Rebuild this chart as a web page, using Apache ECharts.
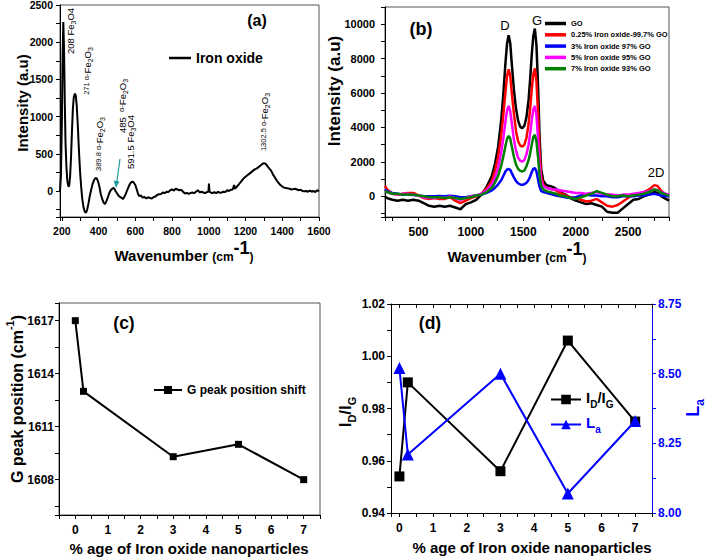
<!DOCTYPE html>
<html><head><meta charset="utf-8">
<script src="https://cdn.jsdelivr.net/npm/echarts@6/dist/echarts.min.js"></script>
<style>html,body{margin:0;padding:0;background:#fff}#c{width:709px;height:559px}</style>
</head><body><div id="c"></div>
<script>
// ---------- DATA ----------
// (a) Raman spectrum of iron oxide: [wavenumber, intensity]
const ironSpectrum = [[190,0],[195,200],[200,900],[204,1800],[208,2270],[212,1900],[216,1200],[220,650],[225,320],[230,130],[236,60],[240,70],[245,200],[250,450],[255,800],[260,1100],[265,1260],[271,1310],[276,1280],[281,1150],[287,880],[293,550],[299,270],[305,60],[311,-100],[318,-220],[325,-280],[332,-290],[338,-250],[345,-170],[352,-70],[360,20],[368,100],[376,150],[383,175],[390,170],[397,130],[405,50],[412,-40],[420,-110],[428,-160],[435,-175],[442,-140],[450,-90],[458,-30],[466,10],[474,30],[480,40],[485,35],[492,0],[500,-30],[508,-60],[516,-80],[524,-90],[532,-110],[540,-80],[548,-40],[556,10],[564,60],[572,100],[580,120],[587,125],[592,110],[600,80],[608,20],[615,-40],[622,-70],[630,-60],[640,-90],[650,-80],[660,-100],[670,-85],[680,-95],[690,-100],[700,-80],[710,-75],[720,-50],[730,-45],[740,-40],[750,-20],[760,-30],[770,-10],[780,-15],[790,10],[800,20],[810,5],[820,30],[830,20],[840,10],[850,15],[860,-10],[870,-35],[880,-25],[890,-40],[900,-30],[910,-20],[920,-30],[930,-10],[940,10],[950,-20],[960,-10],[970,-20],[980,-30],[990,-15],[998,-10],[1001,100],[1004,-10],[1010,-20],[1020,-30],[1030,-15],[1040,-30],[1050,-10],[1060,-25],[1070,-20],[1080,-10],[1090,-15],[1100,10],[1110,0],[1120,15],[1130,20],[1138,80],[1142,30],[1150,50],[1160,80],[1170,110],[1180,140],[1190,170],[1200,190],[1210,210],[1220,230],[1230,250],[1240,270],[1250,290],[1260,300],[1270,320],[1280,340],[1290,360],[1300,375],[1310,365],[1320,330],[1330,300],[1340,270],[1350,220],[1360,180],[1370,140],[1380,110],[1390,80],[1400,60],[1410,45],[1420,40],[1430,35],[1440,30],[1450,20],[1460,25],[1470,30],[1480,20],[1490,10],[1500,15],[1510,0],[1520,-5],[1530,0],[1540,-10],[1550,5],[1560,-10],[1570,0],[1580,-15],[1590,10],[1600,-5]];

// (b) Raman spectra of GO composites
const ramanX = [180,200,250,300,350,400,450,500,550,600,650,700,750,800,850,900,950,1000,1050,1100,1150,1200,1230,1260,1290,1310,1330,1345,1360,1375,1390,1410,1430,1450,1470,1490,1510,1530,1550,1565,1580,1595,1610,1625,1640,1655,1670,1690,1720,1750,1780,1810,1850,1900,1950,2000,2050,2100,2150,2200,2250,2300,2350,2400,2450,2500,2550,2600,2650,2700,2750,2780,2820,2860,2890];
const goY = [0,-100,-200,-250,-200,-250,-200,-250,-400,-550,-600,-550,-600,-550,-650,-750,-450,-350,-200,100,550,1200,1900,2900,4500,6000,7800,8900,9360,8900,7700,6200,5100,4400,4050,3960,4100,4600,5600,6800,8200,9300,9750,8800,6500,3500,1600,900,650,600,550,450,250,100,-100,-250,-350,-450,-400,-500,-600,-900,-950,-950,-700,-450,-200,-150,0,100,250,200,0,-150,-250];
const fe025Y = [600,400,150,100,150,200,200,50,-100,-150,-100,-150,-150,-50,-250,-400,-250,-100,0,150,450,900,1500,2300,3600,4800,6100,7000,7375,7000,6000,4800,3800,3200,2950,2895,3000,3400,4200,5100,6200,7100,7434,6700,4900,2600,1200,700,500,450,400,350,200,50,-50,-100,-200,-300,-250,-150,-350,-550,-600,-500,-300,-100,100,150,250,400,650,600,300,100,0];
const fe3Y = [400,300,200,150,100,100,80,50,0,0,0,20,0,30,0,-50,-50,0,50,100,200,350,500,700,950,1200,1450,1560,1586,1540,1350,1100,880,760,690,677,700,790,950,1150,1400,1600,1644,1450,1000,550,300,250,200,150,100,50,0,-50,-100,-50,50,100,50,50,0,0,-50,-50,0,0,0,50,50,100,150,100,50,0,0];
const fe5Y = [300,250,150,100,150,150,100,50,-50,-100,-100,-50,-100,0,-100,-200,-100,0,50,150,350,700,1100,1650,2600,3400,4400,5000,5252,4950,4250,3300,2650,2250,2070,2027,2100,2450,3000,3650,4400,5050,5252,4700,3400,1800,900,600,500,450,400,400,350,300,250,200,200,150,200,250,150,100,100,50,100,100,150,200,250,300,400,350,250,150,100];
const fe7Y = [300,250,150,150,100,100,100,50,0,-50,-50,-50,-100,-50,-100,-150,-100,-50,50,100,250,500,800,1200,1800,2350,2950,3350,3515,3350,2900,2300,1850,1600,1480,1448,1500,1750,2100,2500,3000,3450,3573,3200,2300,1200,600,400,300,250,200,150,50,0,-100,-150,-50,50,150,300,200,100,0,0,50,0,50,100,150,250,400,350,200,100,50];
const ramanNames = ['GO','0.25% Iron oxide-99.7% GO','3% Iron oxide 97% GO','5% Iron oxide 95% GO','7% Iron oxide 93% GO'];
const ramanColors = ['#000000','#ff0000','#0000ff','#ff00ff','#008000'];

// (c), (d)
const ironPct = [0, 0.25, 3, 5, 7];
const gPeakPos = [1617, 1613, 1609.3, 1610, 1608];
const idIgRatio = [0.954, 0.990, 0.956, 1.006, 0.975];
const laSize = [8.52, 8.21, 8.50, 8.07, 8.33];

// tick labels
const aXTicks = [200,400,600,800,1000,1200,1400,1600];
const aYTicks = [0,500,1000,1500,2000,2500];
const bXTicks = [500,1000,1500,2000,2500];
const bYTicks = [0,2000,4000,6000,8000,10000];
const pctTicks = [0,1,2,3,4,5,6,7];
const cYTicks = [1608,1611,1614,1617];
const dYTicks = [0.94,0.96,0.98,1.00,1.02];
const dY2Ticks = [8.00,8.25,8.50,8.75];

// ---------- CHART ----------
const FF = '"Liberation Sans", Arial, Helvetica, sans-serif';
const has = (list, v) => list.some(t => Math.abs(t - v) < 1e-6);

function mkAxis(o) {
  const col = o.color || '#000';
  const ax = {
    type: 'value', gridIndex: o.grid, min: o.min, max: o.max,
    position: o.position,
    axisLine: {show: true, onZero: false, lineStyle: {color: col, width: 1}},
    axisTick: {show: true, inside: !!o.tickInside, length: 4, lineStyle: {color: col, width: 1}},
    splitLine: {show: false},
    axisLabel: {
      show: o.labels !== null,
      color: col, fontWeight: 'bold', fontFamily: FF, fontSize: o.fontSize || 11, margin: o.margin || 6,
      showMinLabel: true, showMaxLabel: true,
      formatter: v => (o.labels && has(o.labels, v)) ? (o.fmt ? o.fmt(v) : String(Math.round(v))) : ''
    }
  };
  if (o.interval != null) ax.interval = o.interval;
  if (o.step != null) { ax.minInterval = o.step; ax.maxInterval = o.step; ax.splitNumber = Math.round((o.max - o.min) / o.step); }
  return ax;
}

const chart = echarts.init(document.getElementById('c'), null, {renderer: 'svg'});

const grids = [
  {left: 60, top: 5, width: 259, height: 212, show: true, borderColor: '#555', borderWidth: 1, outerBoundsMode: 'none'},
  {left: 385, top: 7, width: 284, height: 210, show: true, borderColor: '#555', borderWidth: 1, outerBoundsMode: 'none'},
  {left: 59, top: 303, width: 261, height: 212, show: true, borderColor: '#555', borderWidth: 1, outerBoundsMode: 'none'},
  {left: 391, top: 304, width: 261, height: 209, show: false, outerBoundsMode: 'none'}
];

const xAxes = [
  mkAxis({grid: 0, min: 190, max: 1600, step: 100, labels: aXTicks, fontSize: 10.5, margin: 8}),
  mkAxis({grid: 1, min: 180, max: 2890, step: 250, labels: bXTicks, fontSize: 12, margin: 9}),
  mkAxis({grid: 2, min: -0.5, max: 7.5, interval: 0.5, labels: pctTicks, fontSize: 12, margin: 9}),
  mkAxis({grid: 3, min: -0.25, max: 7.5, step: 0.5, labels: pctTicks, fontSize: 12, margin: 9}),
  mkAxis({grid: 3, min: -0.25, max: 7.5, step: 0.5, labels: null, position: 'top', tickInside: true})
];
const yAxes = [
  mkAxis({grid: 0, min: -350, max: 2500, step: 250, labels: aYTicks, fontSize: 10.5, margin: 7}),
  mkAxis({grid: 1, min: -1200, max: 11000, step: 1000, labels: bYTicks, fontSize: 11, margin: 10}),
  mkAxis({grid: 2, min: 1606, max: 1618, step: 1.5, labels: cYTicks, fontSize: 12, margin: 5}),
  mkAxis({grid: 3, min: 0.94, max: 1.02, interval: 0.01, labels: dYTicks, fontSize: 12, margin: 6, fmt: v => v.toFixed(2)}),
  mkAxis({grid: 3, min: 8, max: 8.75, interval: 0.125, labels: dY2Ticks, fontSize: 12, margin: 6, position: 'right', color: '#0000ff', fmt: v => v.toFixed(2)})
];

const series = [];
series.push({
  type: 'line', name: 'Iron oxide', xAxisIndex: 0, yAxisIndex: 0, data: ironSpectrum,
  symbol: 'none', showSymbol: false, lineStyle: {color: '#000', width: 2}, itemStyle: {color: '#000'}
});
[goY, fe025Y, fe3Y, fe5Y, fe7Y].forEach((ys, k) => {
  series.push({
    type: 'line', name: ramanNames[k], xAxisIndex: 1, yAxisIndex: 1,
    data: ramanX.map((x, i) => [x, ys[i]]),
    symbol: 'none', showSymbol: false,
    lineStyle: {color: ramanColors[k], width: 2.5}, itemStyle: {color: ramanColors[k]}
  });
});
series.push({
  type: 'line', name: 'G peak position shift', xAxisIndex: 2, yAxisIndex: 2,
  data: ironPct.map((x, i) => [x, gPeakPos[i]]),
  symbol: 'rect', symbolSize: 7, lineStyle: {color: '#000', width: 2}, itemStyle: {color: '#000'}
});
series.push({
  type: 'line', name: 'IDIG', xAxisIndex: 3, yAxisIndex: 3,
  data: ironPct.map((x, i) => [x, idIgRatio[i]]),
  symbol: 'rect', symbolSize: 10, lineStyle: {color: '#000', width: 2}, itemStyle: {color: '#000'}
});
series.push({
  type: 'line', name: 'La', xAxisIndex: 3, yAxisIndex: 4,
  data: ironPct.map((x, i) => [x, laSize[i]]),
  symbol: 'triangle', symbolSize: 12, lineStyle: {color: '#0000ff', width: 2}, itemStyle: {color: '#0000ff'}
});

const legends = [
  {data: ['Iron oxide'], left: 169, top: 51, padding: 0, icon: 'rect', itemWidth: 22, itemHeight: 2.5,
   textStyle: {fontSize: 14, fontWeight: 'bold', fontFamily: FF, color: '#000'}},
  {data: ramanNames, orient: 'vertical', left: 545, top: 19, padding: 0, icon: 'rect', itemWidth: 21, itemHeight: 3.5, itemGap: 2.3,
   textStyle: {fontSize: 7.5, fontWeight: 'bold', fontFamily: FF, color: '#000', lineHeight: 9}},
  {data: ['G peak position shift'], left: 153, top: 384, padding: 0, itemWidth: 28, itemHeight: 10,
   textStyle: {fontSize: 12, fontWeight: 'bold', fontFamily: FF, color: '#000'}},
  {data: ['IDIG', 'La'], orient: 'vertical', left: 550, top: 390, padding: 0, itemWidth: 30, itemHeight: 12, itemGap: 6,
   formatter: n => n === 'IDIG' ? '{b|I}{s|D}{b|/I}{s|G}' : '{bl|L}{sl|a}',
   textStyle: {fontFamily: FF, rich: {
     b: {fontSize: 15, fontWeight: 'bold', color: '#000', verticalAlign: 'top', lineHeight: 19},
     s: {fontSize: 10, fontWeight: 'bold', color: '#000', verticalAlign: 'bottom'},
     bl: {fontSize: 15, fontWeight: 'bold', color: '#0000ff', verticalAlign: 'top', lineHeight: 19},
     sl: {fontSize: 10, fontWeight: 'bold', color: '#0000ff', verticalAlign: 'bottom'}
   }}}
];

// ---------- TEXT / ANNOTATIONS ----------
function txt(x, y, text, size, extra) {
  return Object.assign({
    type: 'text', x: x, y: y, silent: true,
    style: Object.assign({text: text, fontSize: size, fontWeight: 'bold', fontFamily: FF, fill: '#000', align: 'center', verticalAlign: 'middle'}, (extra && extra.style) || {})
  }, extra && extra.rotation != null ? {rotation: extra.rotation} : {});
}
const R = Math.PI / 2;
const waveRich = {
  w: {fontSize: 15, fontWeight: 'bold', fontFamily: FF, verticalAlign: 'bottom', lineHeight: 24},
  s: {fontSize: 12, fontWeight: 'bold', fontFamily: FF, verticalAlign: 'bottom', lineHeight: 24},
  p: {fontSize: 18, fontWeight: 'bold', fontFamily: FF, verticalAlign: 'top'}
};
const annRich = {
  n: {fontSize: 9.5, fontFamily: FF, verticalAlign: 'top', lineHeight: 12},
  m: {fontSize: 7.5, fontFamily: FF, verticalAlign: 'top', lineHeight: 12},
  s: {fontSize: 7, fontFamily: FF, verticalAlign: 'bottom'}
};
const ann = (x, y, t) => ({type: 'text', x: x, y: y, rotation: R, silent: true,
  style: {text: t, rich: annRich, align: 'center', verticalAlign: 'middle', fill: '#000', fontFamily: FF}});

const graphic = [
  txt(257, 20, '(a)', 16),
  txt(421, 29, '(b)', 18),
  txt(124, 323, '(c)', 17.5),
  txt(430, 323, '(d)', 17.5),
  txt(22, 103, 'Intensity (a.u)', 15, {rotation: R}),
  txt(334, 91, 'Intensity (a.u)', 17, {rotation: R}),
  {type: 'text', x: 184, y: 251, silent: true, style: {text: '{w|Wavenumber }{s|(cm}{p|-1}{s|)}', rich: waveRich, align: 'center', verticalAlign: 'middle', fill: '#000'}},
  {type: 'text', x: 517, y: 252, silent: true, style: {text: '{w|Wavenumber }{s|(cm}{p|-1}{s|)}', rich: waveRich, align: 'center', verticalAlign: 'middle', fill: '#000'}},
  {type: 'text', x: 15, y: 399, rotation: R, silent: true, style: {text: '{w|G peak position (cm}{p|-1}{w|)}', align: 'center', verticalAlign: 'middle', fill: '#000',
    rich: {w: {fontSize: 16, fontWeight: 'bold', fontFamily: FF, verticalAlign: 'bottom', lineHeight: 21}, p: {fontSize: 11, fontWeight: 'bold', fontFamily: FF, verticalAlign: 'top'}}}},
  txt(189, 548, '% age of Iron oxide nanoparticles', 15),
  txt(532, 547, '% age of Iron oxide nanoparticles', 15),
  {type: 'text', x: 347, y: 412, rotation: R, silent: true, style: {text: '{b|I}{s|D}{b|/I}{s|G}', align: 'center', verticalAlign: 'middle', fill: '#000',
    rich: {b: {fontSize: 17, fontWeight: 'bold', fontFamily: FF, verticalAlign: 'top', lineHeight: 21}, s: {fontSize: 11, fontWeight: 'bold', fontFamily: FF, verticalAlign: 'bottom'}}}},
  {type: 'text', x: 695, y: 408, rotation: R, silent: true, style: {text: '{b|L}{s|a}', align: 'center', verticalAlign: 'middle', fill: '#0000ff',
    rich: {b: {fontSize: 18, fontWeight: 'bold', fontFamily: FF, color: '#0000ff', verticalAlign: 'top', lineHeight: 22}, s: {fontSize: 12, fontWeight: 'bold', fontFamily: FF, color: '#0000ff', verticalAlign: 'bottom'}}}},
  txt(505, 25, 'D', 13, {style: {fontWeight: 'normal'}}),
  txt(537, 20, 'G', 13, {style: {fontWeight: 'normal'}}),
  txt(656, 172, '2D', 13, {style: {fontWeight: 'normal'}}),
  ann(71, 31, '{n|208 Fe}{s|3}{n|O4}'),
  ann(88, 71, '{m|271 α-}{n|Fe}{s|2}{n|O}{s|3}'),
  ann(100, 144, '{m|389.8 α-}{n|Fe}{s|2}{n|O}{s|3}'),
  ann(123, 106, '{n|485  }{m|α-}{n|Fe}{s|2}{n|O}{s|3}'),
  ann(131, 142, '{n|591.5 Fe}{s|3}{n|O4}'),
  ann(265, 122, '{m|1302.5 α-}{n|Fe}{s|2}{n|O}{s|3}'),
  {type: 'line', silent: true, shape: {x1: 120, y1: 159, x2: 116.8, y2: 182}, style: {stroke: '#1f9e9e', lineWidth: 1.2}},
  {type: 'polygon', silent: true, shape: {points: [[116, 188], [113.6, 180.6], [119.4, 181.4]]}, style: {fill: '#1f9e9e'}}
];

chart.setOption({
  animation: false,
  backgroundColor: '#fff',
  textStyle: {fontFamily: FF},
  grid: grids, xAxis: xAxes, yAxis: yAxes, series: series, legend: legends, graphic: graphic
});
</script></body></html>
